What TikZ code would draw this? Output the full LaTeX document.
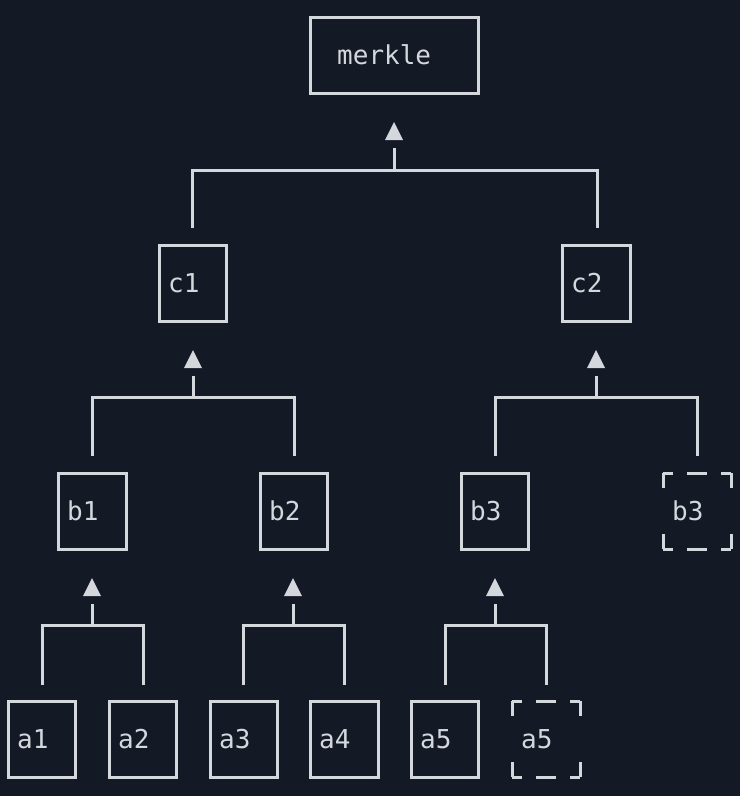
\documentclass[tikz,border=0pt]{standalone}
\usepackage{fontspec}
\newfontfamily\monof{DejaVu Sans Mono}
\definecolor{bg}{HTML}{141926}
\definecolor{fg}{HTML}{D4D7DC}
\begin{document}
\begin{tikzpicture}[x=1pt,y=-1pt,
  box/.style={draw=fg,line width=3pt,inner sep=0pt},
  lbl/.style={text=fg,font=\monof\fontsize{26}{26}\selectfont,anchor=west,inner sep=0pt},
  wire/.style={draw=fg,line width=3pt},
  tri/.style={fill=fg}]
\fill[bg] (0,0) rectangle (740,796);
\useasboundingbox (0,0) rectangle (740,796);
% solid boxes: name, x1, x2, y1, y2, text x
\foreach \n/\xa/\xb/\ya/\yb/\tx/\t in {
  m/310/478/17/93/337/merkle, c1/159/226/245/321/168/c1, c2/562/630/245/321/571/c2,
  b1/58/126/473/549/67/b1, b2/260/327/473/549/269/b2, b3/461/528/473/549/470/b3,
  a1/8/75/701/777/17/a1, a2/109/176/701/777/118/a2, a3/210/277/701/777/219/a3,
  a4/310/378/701/777/319/a4, a5/411/478/701/777/420/a5}{
  \node[box,minimum width={\xb-\xa},minimum height={\yb-\ya}] (\n) at ({(\xa+\xb)/2},{(\ya+\yb)/2}) {};
  \node[lbl] (\n t) at (\tx,{(\ya+\yb)/2}) {\t};
}
% dashed boxes
\foreach \n/\xa/\ya/\tx in {b3d/663/473/672, a5d/512/701/521}{
  \coordinate (\n) at (\xa,\ya);
  \draw[fg,line width=3pt,dash pattern=on 10pt off 14pt on 20pt off 14pt on 10pt]
    (\xa,\ya) -- ++(68,0) (\xa,\ya+76) -- ++(68,0);
  \draw[fg,line width=3pt,dash pattern=on 15pt off 46pt on 15pt]
    (\xa,\ya) -- ++(0,76) (\xa+68,\ya) -- ++(0,76);
  \node[lbl] (\n t) at (\tx,\ya+38) {b3};
}
% fix label for dashed a5
\fill[bg] (519,725) rectangle (572,755);
\node[lbl] (a5dt2) at (521,739) {a5};
% connectors: left x, right x, mid x, bar y, bottom y, tri top
\foreach \l/\r/\mx/\by/\bot/\tt in {
  192/597/394/170/228/122, 92/294/193/397/456/350, 495/697/596/397/456/350,
  42/143/92/625/685/578, 243/344/293/625/685/578, 445/546/495/625/685/578}{
  \draw[wire] (\l,\bot) -- (\l,\by) -- (\r,\by) -- (\r,\bot);
  \draw[wire] (\mx,\by) -- (\mx,\tt+26);
  \fill[fg] (\mx,\tt) -- (\mx+9,\tt+18) -- (\mx-9,\tt+18) -- cycle;
}
\end{tikzpicture}
\end{document}
